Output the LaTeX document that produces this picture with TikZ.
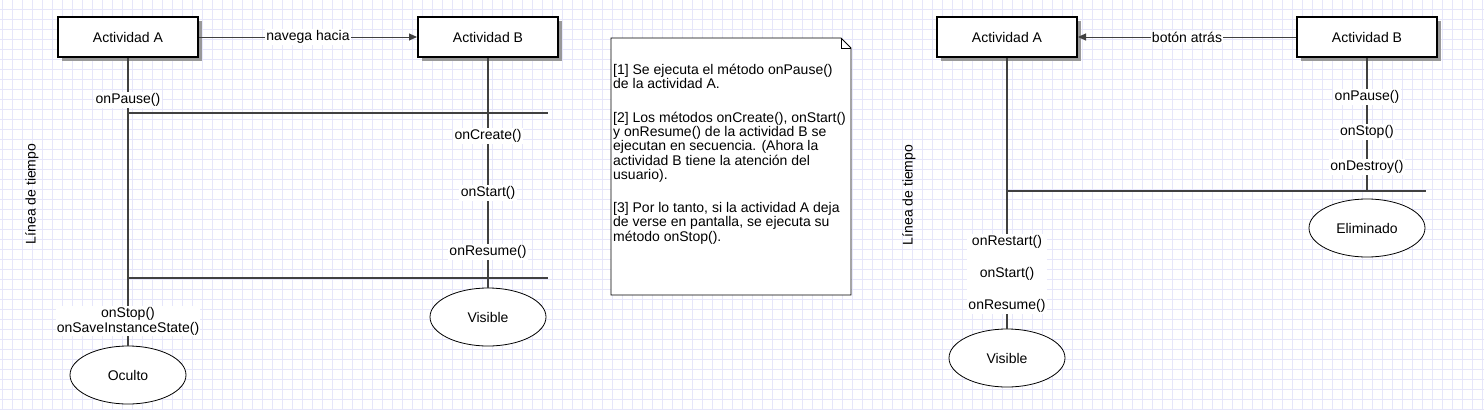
\documentclass[tikz,border=0pt]{standalone}
\usepackage{fontspec}
\setmainfont{Liberation Sans}
\usetikzlibrary{arrows.meta,shapes.geometric,shadows}

\definecolor{linegray}{RGB}{64,64,64}
\definecolor{gridblue}{RGB}{230,230,250}

\tikzset{
  actbox/.style={draw=black, line width=2pt, fill=white,
    minimum width=140pt, minimum height=40pt,
    drop shadow={shadow xshift=4pt, shadow yshift=-4pt, fill=black!40, opacity=1}},
  estado/.style={draw=black, line width=0.8pt, ellipse, fill=white,
    minimum width=116pt, minimum height=58pt},
  vida/.style={draw=linegray, line width=2pt},
  metodo/.style={fill=white, inner sep=1.5pt},
  msg/.style={draw=linegray, line width=1pt, -{Triangle[length=8pt,width=7pt]}},
}

\begin{document}
\begin{tikzpicture}[x=1pt, y=-1pt, every node/.style={font=\fontsize{14}{16}\selectfont}]
  \useasboundingbox (0,0) rectangle (1484,410);
  \fill[white] (0,0) rectangle (1484,410);
  \draw[gridblue, line width=0.8pt, step=10pt, shift={(2,9)}] (-2,-9) grid (1482,401);

  % navega hacia
  \node[actbox] (actA) at (128,37) {Actividad A};
  \node[actbox] (actB) at (488,37) {Actividad B};
  \node[estado] (oculto) at (128,375) {Oculto};
  \node[estado] (visB) at (488,317) {Visible};
  \coordinate (finP) at (548,113);
  \coordinate (finR) at (548,278);

  \draw[vida] (actA) -- (oculto);
  \draw[vida] (actB) -- (visB);
  \draw[vida] (actA |- finP) -- (finP);
  \draw[vida] (actA |- finR) -- (finR);
  \draw[msg] (actA) -- node[fill=white, inner sep=1pt] (navega) {navega hacia} (actB);

  \node[metodo] (pausaA) at (128,100) {onPause()};
  \node[metodo] (crearB) at (488,136) {onCreate()};
  \node[metodo] (iniciarB) at (488,193) {onStart()};
  \node[metodo] (reanudarB) at (488,252) {onResume()};
  \node[metodo, align=center, inner sep=1pt, font=\fontsize{14}{15}\selectfont] (pararA) at (128,321) {onStop()\\onSaveInstanceState()};
  \node[rotate=90] (tiempo1) at (32,194) {Línea de tiempo};

  % nota
  \filldraw[fill=white, line width=0.8pt] (611,38) -- (841,38) -- (851,48) -- (851,295) -- (611,295) -- cycle;
  \draw[line width=0.8pt] (841,38) -- (841,48) -- (851,48);
  \node[anchor=north west, inner sep=0pt, align=left, font=\fontsize{14}{14.3}\selectfont] (nota) at (613,64)
    {[1] Se ejecuta el método onPause()\\
     de la actividad A.\\[19pt]
     [2] Los métodos onCreate(), onStart()\\
     y onResume() de la actividad B se\\
     ejecutan en secuencia. (Ahora la\\
     actividad B tiene la atención del\\
     usuario).\\[19pt]
     [3] Por lo tanto, si la actividad A deja\\
     de verse en pantalla, se ejecuta su\\
     método onStop().};

  % botón atrás
  \node[actbox] (actA2) at (1007,37) {Actividad A};
  \node[actbox] (actB2) at (1367,37) {Actividad B};
  \node[estado] (eliminado) at (1367,228) {Eliminado};
  \node[estado] (visA) at (1007,358) {Visible};
  \coordinate (finD) at (1426,191);

  \draw[vida] (actA2) -- (visA);
  \draw[vida] (actB2) -- (actB2 |- finD);
  \draw[vida] (actA2 |- finD) -- (finD);
  \draw[msg] (actB2) -- node[fill=white, inner sep=1pt] (atras) {botón atrás} (actA2);

  \node[metodo] (pausaB2) at (1367,97) {onPause()};
  \node[metodo] (pararB2) at (1367,132) {onStop()};
  \node[metodo] (destruirB2) at (1367,167) {onDestroy()};
  \node[metodo, align=center, font=\fontsize{14}{32}\selectfont] (volverA2) at (1007,274) {onRestart()\\onStart()\\onResume()};
  \node[rotate=90] (tiempo2) at (909,195) {Línea de tiempo};
\end{tikzpicture}
\end{document}
